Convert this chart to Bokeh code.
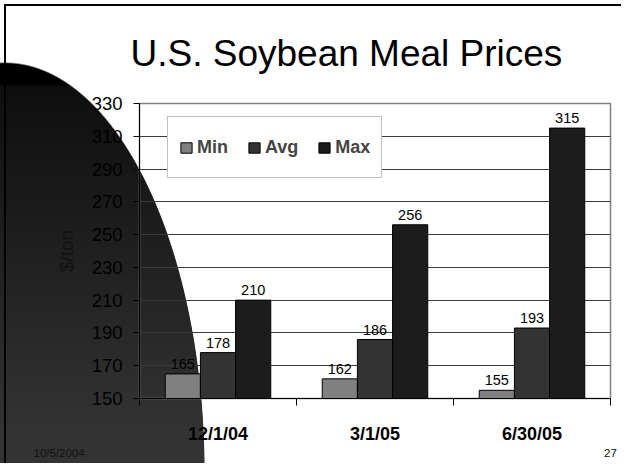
from bokeh.plotting import figure
from bokeh.models import (Range1d, FixedTicker, ColumnDataSource, LabelSet,
                          Legend, LegendItem, Title)
from bokeh.transform import dodge
from bokeh.core.properties import value
from bokeh.embed import file_html
from bokeh.resources import INLINE

# ---- data ----
dates = ["12/1/04", "3/1/05", "6/30/05"]
series = ["Min", "Avg", "Max"]
min_vals = [165, 162, 155]
avg_vals = [178, 186, 193]
max_vals = [210, 256, 315]
y_ticks = [150, 170, 190, 210, 230, 250, 270, 290, 310, 330]
title_text = "U.S.  Soybean Meal Prices"
y_label = "$/ton"
footer_date = "10/5/2004"
footer_page = "27"

colors = ["#808080", "#333333", "#1c1c1c"]
FONT = "Liberation Sans"

W, H = 621, 463
FL, FT, FR, FB = 139, 102, 610, 398   # frame edges in pixels

p = figure(width=W, height=H, output_backend="svg", toolbar_location=None,
           x_range=Range1d(0, len(dates)), y_range=Range1d(y_ticks[0], y_ticks[-1]),
           min_border_left=FL, min_border_top=FT,
           min_border_right=W - FR, min_border_bottom=H - FB)
p.background_fill_color = None
p.border_fill_color = None
p.outline_line_color = "#808080"
p.outline_line_width = 1.5

# decorative slide background: border lines + dark gradient quarter-ellipse
p.styles = {
    "background": (
        "linear-gradient(#000, #000) 4px 4px / 2px 100% no-repeat, "
        "linear-gradient(#000, #000) 4px 4px / 100% 2px no-repeat, "
        "radial-gradient(ellipse 200px 410px at 5px 472px, rgba(255,255,255,0) 99.6%, #ffffff 100%) "
        "0 0 / 100% 100% no-repeat, "
        "linear-gradient(to bottom, #000 0px, #000 84px, #0e0e0e 87px, #333333 430px, #333333 100%) "
        "0 0 / 100% 100% no-repeat, #ffffff"
    )
}

# ---- title ----
p.title.text = title_text
p.title.align = "left"
p.title.offset = -9
p.title.text_font = FONT
p.title.text_font_size = "37px"
p.title.text_font_style = "normal"
p.title.text_color = "black"
p.title.vertical_align = "bottom"
p.title.standoff = 60

# ---- bars ----
xc = [i + 0.5 for i in range(len(dates))]
src = ColumnDataSource(dict(x=xc, Min=min_vals, Avg=avg_vals, Max=max_vals))
bw = 0.224
offsets = [-bw, 0.0, bw]
items = []
for s, c, off in zip(series, colors, offsets):
    r = p.vbar(x=dodge("x", off, range=p.x_range), top=s, bottom=y_ticks[0], width=bw,
               source=src, fill_color=c, line_color="black", line_width=1)
    items.append(LegendItem(label=s, renderers=[r]))
    p.add_layout(LabelSet(x=dodge("x", off, range=p.x_range), y=s, text=s, source=src,
                          text_align="center", text_baseline="bottom", y_offset=5,
                          text_font=value(FONT), text_font_size="14.5px",
                          text_color="black"))

# ---- axes ----
p.xgrid.visible = False
p.ygrid.ticker = FixedTicker(ticks=y_ticks)
p.ygrid.grid_line_color = "#3a3a3a"
p.ygrid.grid_line_width = 1

yax = p.yaxis[0]
yax.ticker = FixedTicker(ticks=y_ticks)
yax.axis_line_color = "black"
yax.major_tick_out = 6
yax.major_tick_in = 0
yax.major_tick_line_color = "black"
yax.minor_tick_line_color = None
yax.major_label_text_font = FONT
yax.major_label_text_font_size = "18.5px"
yax.major_label_text_color = "black"
yax.major_label_standoff = 11
yax.axis_label = y_label
yax.axis_label_text_font = FONT
yax.axis_label_text_font_size = "19px"
yax.axis_label_text_font_style = "normal"
yax.axis_label_text_color = "#111111"
yax.axis_label_standoff = 12

xax = p.xaxis[0]
xax.ticker = FixedTicker(ticks=xc, minor_ticks=list(range(len(dates) + 1)))
xax.major_label_overrides = {x: d for x, d in zip(xc, dates)}
xax.axis_line_color = "black"
xax.major_tick_line_color = None
xax.major_tick_out = 0
xax.major_tick_in = 0
xax.minor_tick_line_color = "black"
xax.minor_tick_out = 7
xax.minor_tick_in = 0
xax.major_label_text_font = FONT
xax.major_label_text_font_size = "18px"
xax.major_label_text_font_style = "bold"
xax.major_label_text_color = "black"
xax.major_label_standoff = 18

# ---- series legend ----
leg = Legend(items=items, orientation="horizontal", location=(28, 220),
             label_text_font=FONT, label_text_font_size="18px",
             label_text_font_style="bold", label_standoff=4, spacing=19,
             glyph_width=14, glyph_height=13, padding=11, label_height=38,
             border_line_color="#808080", border_line_width=1.5,
             background_fill_color="white", background_fill_alpha=1.0)
p.add_layout(leg, "center")

# ---- footer (slide date and page number) ----
FOOT_SIZE = "11.5px"
xax.axis_label = footer_page
xax.axis_label_align = "end"
xax.axis_label_text_font = FONT
xax.axis_label_text_font_size = FOOT_SIZE
xax.axis_label_text_font_style = "normal"
xax.axis_label_text_color = "#111111"
xax.axis_label_standoff = 2

t_date = Title(text=footer_date, align="left", offset=-106, vertical_align="top",
               standoff=-26, text_font=FONT, text_font_size=FOOT_SIZE,
               text_font_style="normal", text_color="#111111")
p.add_layout(t_date, "below")

open("out.html", "w").write(file_html(p, INLINE))
